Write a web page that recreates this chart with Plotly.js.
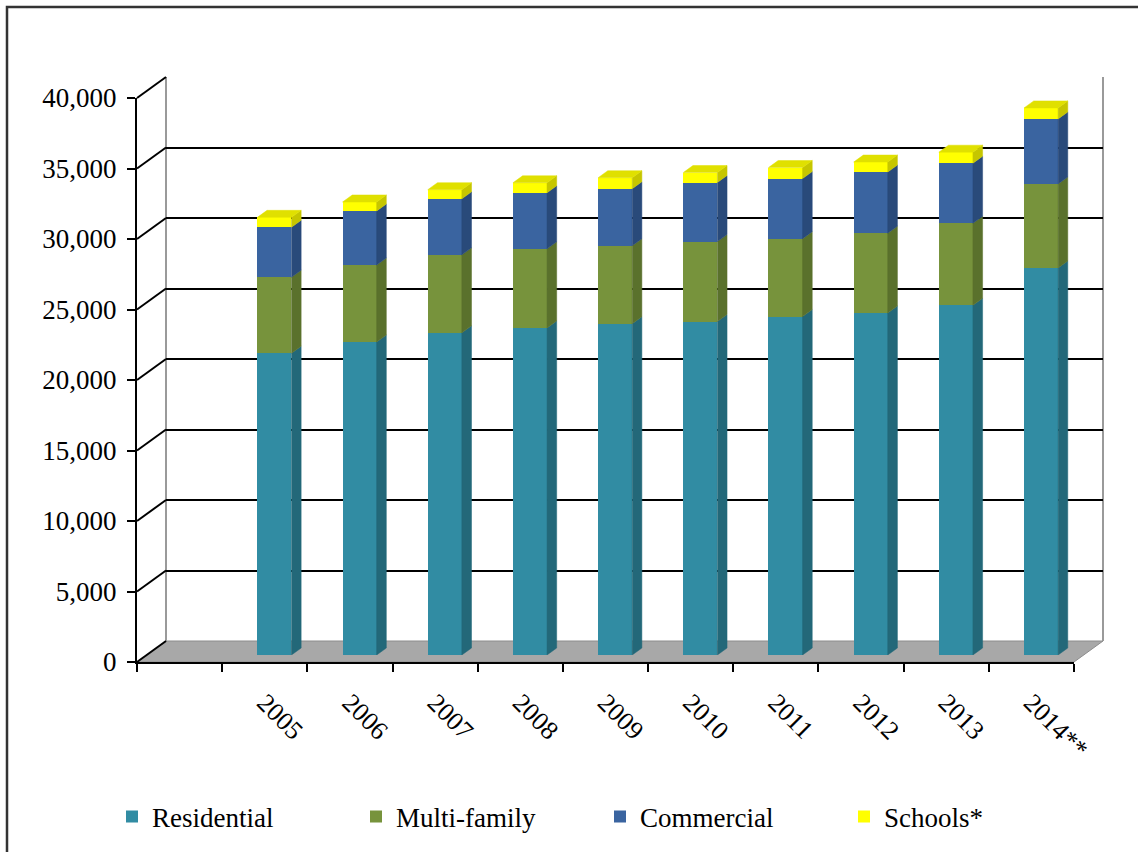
<!DOCTYPE html>
<html>
<head>
<meta charset="utf-8">
<script src="https://cdn.plot.ly/plotly-3.0.1.min.js"></script>
<style>
html,body{margin:0;padding:0;background:#fff;}
#chart{width:1138px;height:852px;}
</style>
</head>
<body>
<div id="chart"></div>
<script>
// ---------------- data ----------------
const years = ['2005','2006','2007','2008','2009','2010','2011','2012','2013','2014**'];
const residential = [21400, 22200, 22850, 23200, 23500, 23650, 24000, 24250, 24800, 27450];
const multiFamily = [5390, 5460, 5530, 5610, 5530, 5670, 5530, 5670, 5820, 5960];
const commercial  = [3550, 3830, 3970, 3970, 4040, 4190, 4260, 4330, 4260, 4610];
const schools     = [700, 640, 650, 710, 780, 710, 780, 710, 780, 780];
const seriesNames = ['Residential','Multi-family','Commercial','Schools*'];
const yTicks = [0,5000,10000,15000,20000,25000,30000,35000,40000];

// ---------------- styling ----------------
const frontColors = ['#318ca3','#77933c','#3a64a0','#ffff00'];
const sideColors  = ['#236879','#5a712c','#294a7a','#c6c600'];
const topColor    = '#e0e000';
const FONT = 'Liberation Serif, Times New Roman, serif';

const W = 1138, H = 852;
// pseudo-3D frame geometry (pixels)
const FRONT = {x0:137, x1:1074, yBase:662, yTop:98};
const DEPTH = {dx:29, dy:-21};
const BAR_D = 1/3;
const BAR_THICK = 1/3;
const yMax = 40000;
const nSlots = years.length + 1;
const xRange = [-1.5, years.length - 0.5];

const px = x => x / W;
const py = y => 1 - y / H;
const pxPerUnitX = (FRONT.x1 - FRONT.x0) / nSlots;
const pxPerUnitY = (FRONT.yBase - FRONT.yTop) / yMax;

function planeDomains(d){
  return {
    x:[px(FRONT.x0 + DEPTH.dx*d), px(FRONT.x1 + DEPTH.dx*d)],
    y:[py(FRONT.yBase + DEPTH.dy*d), py(FRONT.yTop + DEPTH.dy*d)]
  };
}
const back = planeDomains(1), front = planeDomains(0), barPl = planeDomains(BAR_D);

// ---------------- traces ----------------
const series = [residential, multiFamily, commercial, schools];
const xs = years.map((_, i) => i);
const barWidth = 0.4;
const traces = [];
traces.push({type:'scatter', mode:'none', x:[xs[0]], y:[0], xaxis:'x', yaxis:'y', showlegend:false, hoverinfo:'skip'});
traces.push({type:'scatter', mode:'none', x:[xs[0]], y:[0], xaxis:'x2', yaxis:'y2', showlegend:false, hoverinfo:'skip'});

series.forEach((vals, s) => {
  traces.push({
    type:'bar', name:seriesNames[s], x:xs, y:vals, width:barWidth,
    xaxis:'x3', yaxis:'y3',
    marker:{color:frontColors[s], line:{width:0}},
    hoverinfo:'skip'
  });
});

const ddx = DEPTH.dx * BAR_THICK / pxPerUnitX;
const ddy = -DEPTH.dy * BAR_THICK / pxPerUnitY;
const cum = xs.map(() => 0);
series.forEach((vals, s) => {
  const fx = [], fy = [];
  vals.forEach((v, i) => {
    const b = cum[i], t = cum[i] + v;
    const xr = xs[i] + barWidth/2;
    fx.push(xr, xr+ddx, xr+ddx, xr, xr, null);
    fy.push(b, b+ddy, t+ddy, t, b, null);
    cum[i] = t;
  });
  traces.push({
    type:'scatter', mode:'lines', x:fx, y:fy, fill:'toself', connectgaps:false,
    fillcolor:sideColors[s], line:{color:sideColors[s], width:0.5},
    xaxis:'x3', yaxis:'y3', showlegend:false, hoverinfo:'skip'
  });
});
{
  const tx = [], ty = [];
  xs.forEach((x, i) => {
    const T = cum[i], xl = x - barWidth/2, xr = x + barWidth/2;
    tx.push(xl, xr, xr+ddx, xl+ddx, xl, null);
    ty.push(T, T, T+ddy, T+ddy, T, null);
  });
  traces.push({
    type:'scatter', mode:'lines', x:tx, y:ty, fill:'toself', connectgaps:false,
    fillcolor:topColor, line:{color:topColor, width:0.5},
    xaxis:'x3', yaxis:'y3', showlegend:false, hoverinfo:'skip'
  });
}

// ---------------- frame shapes ----------------
const shapes = [];
shapes.push({type:'rect', xref:'paper', yref:'paper', x0:px(7), x1:1.02, y0:-0.02, y1:py(7),
  line:{color:'#333', width:2.5}, fillcolor:'rgba(0,0,0,0)', layer:'below'});
const fx0 = FRONT.x0, fx1 = FRONT.x1, fyb = FRONT.yBase;
shapes.push({type:'path', xref:'paper', yref:'paper', layer:'below',
  path:`M${px(fx0)},${py(fyb)} L${px(fx1)},${py(fyb)} L${px(fx1+DEPTH.dx)},${py(fyb+DEPTH.dy)} L${px(fx0+DEPTH.dx)},${py(fyb+DEPTH.dy)} Z`,
  fillcolor:'#a8a8a8', line:{color:'#8c8c8c', width:1}});
[FRONT.x0 + DEPTH.dx, FRONT.x1 + DEPTH.dx].forEach(x => {
  shapes.push({type:'line', xref:'paper', yref:'paper', layer:'below',
    x0:px(x), x1:px(x), y0:py(FRONT.yBase + DEPTH.dy), y1:py(FRONT.yTop + DEPTH.dy),
    line:{color:'#9a9a9a', width:2}});
});
yTicks.forEach(v => {
  const yf = FRONT.yBase - v * pxPerUnitY;
  shapes.push({type:'line', xref:'paper', yref:'paper', layer:'below',
    x0:px(FRONT.x0), y0:py(yf), x1:px(FRONT.x0 + DEPTH.dx), y1:py(yf + DEPTH.dy),
    line:{color:'#000', width:2}});
});

// ---------------- layout ----------------
const boundaries = [];
for (let k = 0; k <= nSlots; k++) boundaries.push(xRange[0] + k);

const layout = {
  width:W, height:H, autosize:false,
  margin:{l:0, r:0, t:0, b:0},
  paper_bgcolor:'#fff', plot_bgcolor:'rgba(0,0,0,0)',
  barmode:'stack', showlegend:true, hovermode:false,
  font:{family:FONT, color:'#000'},
  xaxis:{domain:back.x, range:xRange, anchor:'y', type:'linear', showgrid:false, zeroline:false,
         showline:false, showticklabels:false, ticks:'', fixedrange:true},
  yaxis:{domain:back.y, range:[0,yMax], anchor:'x', type:'linear', tickmode:'array', tickvals:yTicks.slice(1),
         showgrid:true, gridcolor:'#000', gridwidth:2, zeroline:false, showline:false,
         showticklabels:false, ticks:'', fixedrange:true},
  xaxis2:{domain:front.x, range:xRange, anchor:'y2', type:'linear', tickmode:'array', tickvals:xs, ticktext:years,
          tickangle:45, ticks:'', showline:true, linecolor:'#000', linewidth:2,
          showgrid:false, zeroline:false, tickfont:{family:FONT, size:26, color:'#000'}, ticklabelstandoff:13,
          minor:{tickmode:'array', tickvals:boundaries, ticks:'outside', ticklen:8, tickwidth:2,
                 tickcolor:'#000', showgrid:false},
          fixedrange:true},
  yaxis2:{domain:front.y, range:[0,yMax], anchor:'x2', type:'linear', tickmode:'array', tickvals:yTicks,
          tickformat:',d', ticks:'outside', ticklen:8, tickwidth:2, tickcolor:'#000',
          showline:true, linecolor:'#000', linewidth:2, showgrid:false, zeroline:false,
          tickfont:{family:FONT, size:27, color:'#000'}, ticklabelstandoff:5, fixedrange:true},
  xaxis3:{domain:barPl.x, range:xRange, anchor:'y3', type:'linear', visible:false, fixedrange:true},
  yaxis3:{domain:barPl.y, range:[0,yMax], anchor:'x3', type:'linear', visible:false, fixedrange:true},
  legend:{orientation:'h', x:px(112), xanchor:'left', y:py(817), yanchor:'middle',
          font:{family:FONT, size:27, color:'#000'}, bgcolor:'rgba(0,0,0,0)',
          entrywidth:199, entrywidthmode:'pixels', traceorder:'normal'},
  shapes:shapes
};

Plotly.newPlot('chart', traces, layout, {displayModeBar:false, staticPlot:true});
</script>
</body>
</html>
